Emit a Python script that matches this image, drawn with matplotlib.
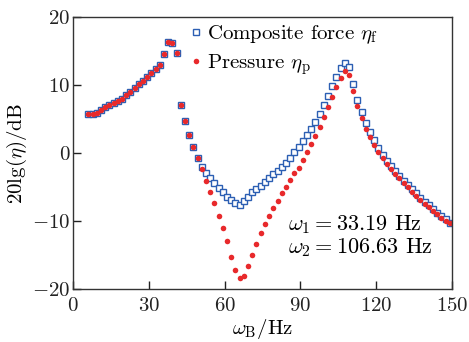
import matplotlib
matplotlib.use("Agg")
import matplotlib.pyplot as plt

plt.rcParams['font.family'] = 'serif'
plt.rcParams['font.serif'] = ['cmr10', 'DejaVu Serif']
plt.rcParams['mathtext.fontset'] = 'cm'
plt.rcParams['axes.formatter.use_mathtext'] = True

# frequency points (Hz)
freq = [6.05, 7.71, 9.38, 11.04, 12.71, 14.37, 16.03, 17.70, 19.36, 21.03,
        22.69, 24.35, 26.02, 27.68, 29.35, 31.01, 32.67, 34.34, 36.00, 37.67,
        39.33, 40.99, 42.66, 44.32, 45.99, 47.65, 49.31, 50.98, 52.64, 54.31,
        55.97, 57.63, 59.30, 60.96, 62.63, 64.29, 65.95, 67.62, 69.28, 70.95,
        72.61, 74.27, 75.94, 77.60, 79.27, 80.93, 82.59, 84.26, 85.92, 87.59,
        89.25, 90.91, 92.58, 94.24, 95.91, 97.57, 99.23, 100.90, 102.56, 104.23,
        105.89, 107.55, 109.22, 110.88, 112.55, 114.21, 115.87, 117.54, 119.20, 120.87,
        122.53, 124.19, 125.86, 127.52, 129.19, 130.85, 132.51, 134.18, 135.84, 137.51,
        139.17, 140.83, 142.50, 144.16, 145.83, 147.49, 149.15]

# composite force eta_f (dB)
eta_f = [5.74, 5.8, 5.85, 6.3, 6.8, 7.0, 7.3, 7.65, 8.0, 8.5,
         9.0, 9.55, 10.1, 10.6, 11.2, 11.8, 12.3, 13.0, 14.6, 16.4,
         16.2, 14.7, 7.1, 4.65, 2.65, 0.9, -0.8, -2.0, -2.9, -3.65,
         -4.4, -5.1, -5.8, -6.5, -6.9, -7.3, -7.65, -7.0, -6.4, -5.8,
         -5.3, -4.8, -4.2, -3.7, -3.1, -2.6, -2.05, -1.4, -0.75, 0.1,
         0.93, 1.76, 2.65, 3.5, 4.6, 5.8, 7.05, 8.4, 9.8, 11.2,
         12.5, 13.2, 12.7, 10.2, 7.85, 6.05, 4.45, 3.1, 1.9, 0.75,
         -0.25, -1.1, -1.9, -2.6, -3.4, -4.1, -4.7, -5.3, -5.9, -6.6,
         -7.2, -7.65, -8.2, -8.8, -9.3, -9.75, -10.3]

# pressure eta_p (dB)
eta_p = [5.74, 5.8, 5.85, 6.3, 6.8, 7.0, 7.3, 7.65, 8.0, 8.5,
         9.0, 9.55, 10.1, 10.6, 11.2, 11.8, 12.3, 13.0, 14.6, 16.4,
         16.2, 14.7, 7.1, 4.65, 2.65, 0.9, -0.8, -2.4, -4.1, -5.7,
         -7.4, -9.2, -11.1, -13.0, -15.25, -17.2, -18.4, -18.1, -16.6, -15.0,
         -13.4, -11.8, -10.4, -9.2, -8.1, -7.1, -5.9, -4.95, -4.0, -3.0,
         -2.16, -1.07, 0.1, 1.28, 2.5, 3.9, 5.3, 6.8, 8.3, 9.75,
         11.1, 12.0, 11.5, 9.2, 6.9, 5.2, 3.6, 2.3, 1.2, 0.2,
         -0.8, -1.6, -2.35, -3.1, -3.7, -4.35, -5.0, -5.7, -6.3, -6.9,
         -7.5, -8.0, -8.5, -9.0, -9.5, -10.0, -10.3]

blue = '#2c5fb3'
red = '#e8292b'

fig = plt.figure(figsize=(4.69, 3.42), dpi=100)
ax = fig.add_axes([0.1557, 0.155, 0.8081, 0.795])

ax.plot(freq, eta_f, 's', ms=3.8, mfc='white', mec=blue, mew=1.0,
        label=r'Composite force $\eta_\mathrm{f}$')
ax.plot(freq, eta_p, 'o', ms=4.0, mfc=red, mec=red, mew=0,
        label=r'Pressure $\eta_\mathrm{p}$')

ax.set_xlim(0, 150)
ax.set_ylim(-20, 20)
ax.set_xticks([0, 30, 60, 90, 120, 150])
ax.set_yticks([-20, -10, 0, 10, 20])
ax.tick_params(direction='in', length=6, width=1, labelsize=15, colors='#222222')
ax.tick_params(axis='x', pad=6)
ax.tick_params(axis='y', pad=2)
for s in ax.spines.values():
    s.set_color('#333333')
    s.set_linewidth(1)

ax.set_xlabel(r'$\omega_\mathrm{B}$/Hz', fontsize=15, labelpad=1)
ax.set_ylabel(r'20lg($\eta$)/dB', fontsize=15, labelpad=2)

ax.legend(loc='upper left', bbox_to_anchor=(0.308, 0.978), frameon=False,
          fontsize=15, handlelength=0.6, handletextpad=0.25, labelspacing=0.3,
          borderaxespad=0, borderpad=0, markerscale=1.0)

ax.text(85, -11.3, r'$\omega_1=33.19$ Hz', fontsize=16, va='baseline')
ax.text(85, -14.75, r'$\omega_2=106.63$ Hz', fontsize=16, va='baseline')

fig.savefig('out.png', dpi=100)
